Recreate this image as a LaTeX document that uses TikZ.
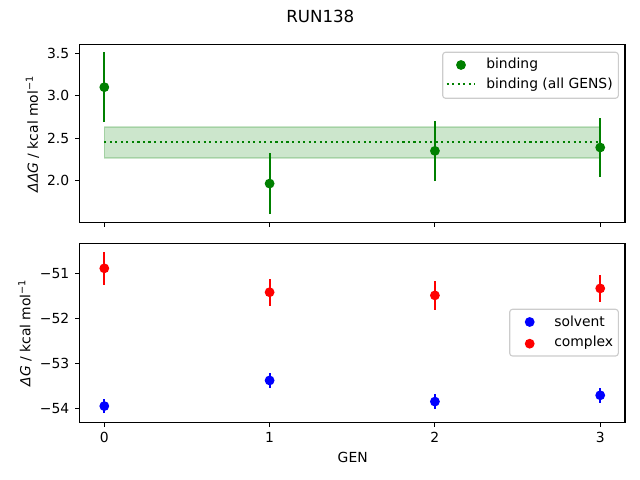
\documentclass[tikz,border=0pt]{standalone}
\usepackage{fontspec}
\setmainfont{DejaVu Sans}
\usetikzlibrary{positioning}
\definecolor{mplgreen}{rgb}{0,0.5,0}
\definecolor{mplred}{rgb}{1,0,0}
\definecolor{mplblue}{rgb}{0,0,1}
\definecolor{legendedge}{gray}{0.8}
\newcommand{\tenpt}{\fontsize{10bp}{12bp}\selectfont}
\newcommand{\errpt}[4]{
\draw[errbar,#4] (#1,{#2-#3}) -- (#1,{#2+#3});
\filldraw[dot=#4] (#1,#2) circle (3bp);
}
\tikzset{
  spine/.style={line width=0.8bp},
  tickmark/.style={line width=0.8bp},
  ticklabel/.style={inner sep=0pt, font=\tenpt},
  axislabel/.style={inner sep=0pt, font=\tenpt},
  legendtext/.style={inner sep=0pt, anchor=west, font=\tenpt},
  errbar/.style={line width=1.5bp},
  dot/.style={fill=#1, draw=#1, line width=1bp},
  band/.style={fill=mplgreen, draw=mplgreen, line width=1bp, opacity=0.2},
  meanline/.style={mplgreen, line width=1.5bp, dash pattern=on 1.5bp off 2.475bp},
  legendbox/.style={draw=legendedge, fill=white, rounded corners=2bp, line width=0.8bp}
}

\begin{document}
\begin{tikzpicture}[x=0.72bp, y=0.72bp]
                \useasboundingbox (0,0) rectangle (640,480);
                \node[font=\fontsize{12bp}{14bp}\selectfont, inner sep=0pt] (title) at (320.3,463.7) {RUN138};
                % upper panel: binding
                \begin{scope}[shift={(104.3,129.6)}, x=119.016bp, y=61.128bp]
                    \filldraw[band] (0,2.266) rectangle (3,2.633);
                    \draw[meanline] (0,2.45) -- (3,2.45);
                    \errpt{0}{3.10}{0.41}{mplgreen}
                    \errpt{1}{1.965}{0.36}{mplgreen}
                    \errpt{2}{2.35}{0.355}{mplgreen}
                    \errpt{3}{2.39}{0.345}{mplgreen}
                    \draw[spine] (-0.15,1.51) rectangle (3.15,3.6);
                    \foreach \v [count=\i] in {2.0,2.5,3.0,3.5}
                        \draw[tickmark] (-0.15,\v) -- ++(-3.5bp,0) node[ticklabel, left=3.5bp] (ytop\i) {\v};
                    \foreach \g in {0,...,3}
                        \draw[tickmark] (\g,1.51) -- ++(0,-3.5bp);
                \end{scope}
                % lower panel: solvent and complex
                \begin{scope}[shift={(104.3,2501.7)}, x=119.016bp, y=32.4bp]
                    \errpt{0}{-53.95}{0.155}{mplblue}
                    \errpt{1}{-53.38}{0.16}{mplblue}
                    \errpt{2}{-53.85}{0.16}{mplblue}
                    \errpt{3}{-53.71}{0.17}{mplblue}
                    \errpt{0}{-50.889}{0.36}{mplred}
                    \errpt{1}{-51.42}{0.30}{mplred}
                    \errpt{2}{-51.49}{0.32}{mplred}
                    \errpt{3}{-51.335}{0.30}{mplred}
                    \draw[spine] (-0.15,-54.31) rectangle (3.15,-50.33);
                    \foreach \v/\t [count=\i] in {-54/−54,-53/−53,-52/−52,-51/−51}
                        \draw[tickmark] (-0.15,\v) -- ++(-3.5bp,0) node[ticklabel, left=3.5bp] (ybot\i) {\t};
                    \foreach \g in {0,...,3}
                        \draw[tickmark] (\g,-54.31) -- ++(0,-3.5bp) node[ticklabel, below=3.5bp] (xbot\g) {\g};
                \end{scope}
                % axis labels
                \node[axislabel, rotate=90] (ylabtop) at (32.5,346) {\textit{ΔΔG} / kcal mol\textsuperscript{−1}};
                \node[axislabel, rotate=90] (ylabbot) at (25,147.2) {\textit{ΔG} / kcal mol\textsuperscript{−1}};
                \node[axislabel] (xlab) at (352.7,22.7) {GEN};
                % legends
                \draw[legendbox] (442.7,381.7) rectangle (618.3,427.7);
                \filldraw[dot=mplgreen] (461,415) circle (3bp);
                \node[legendtext] (lgbind) at (486,415.5) {binding};
                \draw[meanline] (446.7,396) -- (475,396);
                \node[legendtext] (lgall) at (486,395.8) {binding (all GENS)};
                \draw[legendbox] (509.7,124) rectangle (618.3,170.7);
                \filldraw[dot=mplblue] (529.7,158) circle (3bp);
                \node[legendtext] (lgsolv) at (554,158.7) {solvent};
                \filldraw[dot=mplred] (529.7,136.3) circle (3bp);
                \node[legendtext] (lgcplx) at (554,137.2) {complex};
\end{tikzpicture}
\end{document}
